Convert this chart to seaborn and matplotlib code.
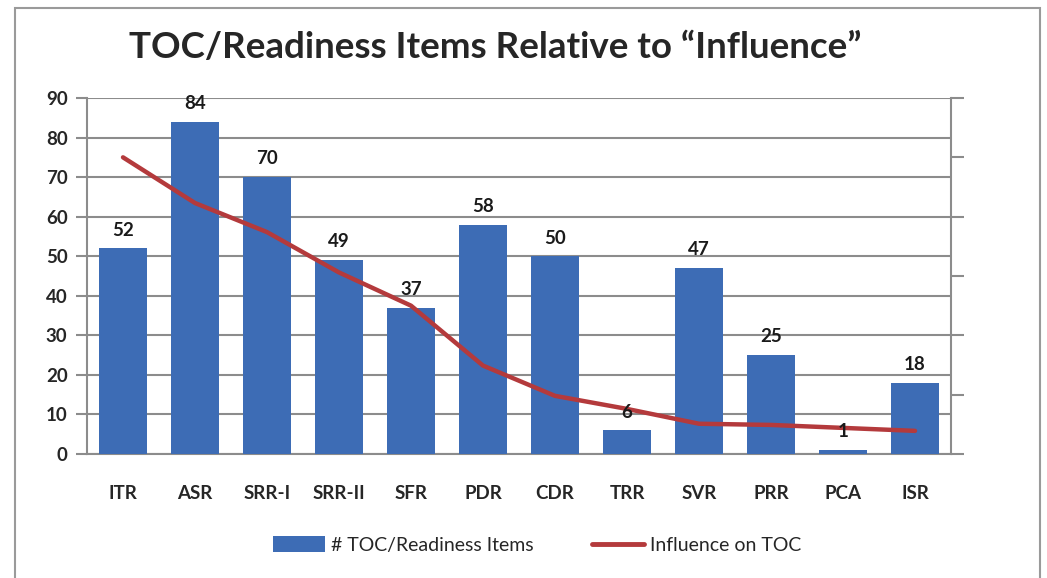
"""
plot.py
-------
TOC/Readiness items per review, with the influence on TOC overlaid.
"""

import matplotlib
matplotlib.use("Agg")
import matplotlib.pyplot as plt
import seaborn as sns
import pandas as pd
from matplotlib.patches import Patch, Rectangle
from matplotlib.lines import Line2D

# Data
reviews = ["ITR", "ASR", "SRR-I", "SRR-II", "SFR", "PDR", "CDR", "TRR", "SVR", "PRR", "PCA", "ISR"]
toc_items = [52, 84, 70, 49, 37, 58, 50, 6, 47, 25, 1, 18]
# influence is on an unlabelled secondary axis (0..6)
influence = [5.0, 4.23, 3.74, 3.06, 2.5, 1.49, 0.98, 0.76, 0.51, 0.49, 0.44, 0.39]

BAR_COLOR = "#3D6CB5"
LINE_COLOR = "#B43A3C"
AXIS_GRAY = "#8C8C8C"

sns.set_style("white")
plt.rcParams["font.family"] = ["Lato", "DejaVu Sans"]

W, H = 1047, 578
fig = plt.figure(figsize=(W / 100, H / 100), dpi=100)

# outer chart frame
fig.patches.append(Rectangle((15 / W, -0.1), (1040 - 15) / W, 1.1 - 8 / H,
                             transform=fig.transFigure, fill=False,
                             edgecolor="#9A9A9A", linewidth=1.5))

ax = fig.add_axes([87 / W, 1 - 454 / H, (951 - 87) / W, (454 - 98) / H])
df = pd.DataFrame({"review": reviews, "items": toc_items, "influence": influence})

sns.barplot(data=df, x="review", y="items", color=BAR_COLOR, width=0.66,
            saturation=1, linewidth=0, ax=ax, zorder=3)
ax.set_xlim(-0.5, len(reviews) - 0.5)
ax.set_ylim(0, 90)
ax.set_yticks(range(0, 91, 10))
ax.set_xlabel("")
ax.set_ylabel("")

ax.yaxis.grid(True, color=AXIS_GRAY, linewidth=1.5)
ax.set_axisbelow(True)
for side in ["top", "right"]:
    ax.spines[side].set_visible(False)
for side in ["left", "bottom"]:
    ax.spines[side].set_color(AXIS_GRAY)
    ax.spines[side].set_linewidth(1.5)

ax.tick_params(axis="y", length=8, width=1.5, color=AXIS_GRAY, pad=6,
               labelsize=13.5)
ax.tick_params(axis="x", which="major", length=0, pad=22, labelsize=13.5)
ax.set_xticks([i - 0.5 for i in range(len(reviews) + 1)], minor=True)
ax.tick_params(axis="x", which="minor", length=6, width=1.5, color=AXIS_GRAY)
for lbl in ax.get_xticklabels() + ax.get_yticklabels():
    lbl.set_fontweight("bold")

# secondary axis for the influence line
ax2 = ax.twinx()
sns.lineplot(data=df, x="review", y="influence", color=LINE_COLOR,
             linewidth=3.2, ax=ax2, sort=False)
ax2.set_ylim(0, 6)
ax2.set_yticks(range(0, 7))
ax2.set_yticklabels([])
ax2.set_ylabel("")
ax2.set_xlim(-0.5, len(reviews) - 0.5)
for side in ["top", "left", "bottom"]:
    ax2.spines[side].set_visible(False)
ax2.spines["right"].set_color(AXIS_GRAY)
ax2.spines["right"].set_linewidth(1.5)
ax2.tick_params(axis="y", length=9, width=1.5, color=AXIS_GRAY)

# value labels on top of everything
for i, v in enumerate(toc_items):
    ax2.annotate(str(v), xy=(i, v), xycoords=ax.transData,
                 xytext=(0, 7), textcoords="offset points",
                 ha="center", va="bottom", fontsize=13.5, fontweight="bold",
                 color="#1A1A1A")

fig.text(495 / W, 1 - 48 / H, "TOC/Readiness Items Relative to \u201cInfluence\u201d",
         ha="center", va="center", fontsize=26.5, fontweight="bold")

handles = [Patch(facecolor=BAR_COLOR, edgecolor="none"),
           Line2D([0], [0], color=LINE_COLOR, linewidth=3.5)]
fig.legend(handles, ["# TOC/Readiness Items", "Influence on TOC"],
           loc="center", bbox_to_anchor=(537 / W, 1 - 545 / H), ncol=2,
           frameon=False, fontsize=14, handlelength=2.7, handleheight=0.9,
           handletextpad=0.3, columnspacing=3.0)

fig.savefig("out.png", dpi=100)
